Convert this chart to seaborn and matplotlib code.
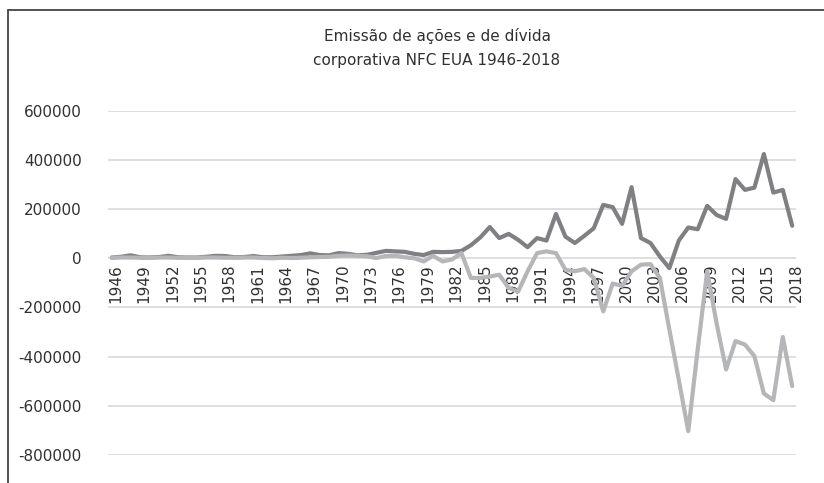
import numpy as np
import pandas as pd
import matplotlib
matplotlib.use("Agg")
import matplotlib.pyplot as plt
import matplotlib.transforms as mtransforms
from matplotlib.lines import Line2D
import seaborn as sns

# Data (US$ millions)
years = list(range(1946, 2019))

debt = [
    3000, 6000, 12000, 4000, 3000, 5000, 10000, 4000, 3000, 3000,
    6000, 10000, 9000, 4000, 5000, 9000, 4000, 4000, 7000, 10000,
    13000, 20000, 13000, 12000, 21000, 18000, 12000, 14000, 22000, 30000,
    28000, 26000, 18000, 13000, 26000, 25000, 26000, 30000, 53000, 85000,
    127000, 82000, 99000, 75000, 45000, 82000, 72000, 180000, 88000, 62000,
    91000, 122000, 217000, 208000, 140000, 289000, 82000, 62000, 7000, -40000,
    72000, 125000, 118000, 213000, 176000, 160000, 322000, 278000, 287000, 424000,
    267000, 278000, 132000,
]

equity = [
    2000, 3000, 3000, 2000, 2000, 3000, 3000, 2000, 3000, 2000,
    3000, 3000, 2000, 2000, 3000, 3000, 1000, 0, 2000, 1000,
    2000, 4000, 5000, 6000, 10000, 11000, 10000, 8000, 1000, 9000,
    10000, 4000, 0, -13000, 10000, -13000, -5000, 21000, -80000, -80000,
    -74000, -67000, -121000, -135000, -53000, 21000, 28000, 21000, -47000, -53000,
    -44000, -80000, -216000, -103000, -112000, -53000, -26000, -24000, -80000, -290000,
    -495000, -703000, -370000, -53000, -265000, -452000, -337000, -351000, -398000, -550000,
    -577000, -320000, -520000,
]

title_lines = ["Emissão de ações e de dívida", "corporativa NFC EUA 1946-2018"]
y_ticks = list(range(-800000, 600001, 200000))
x_ticks = list(range(1946, 2019, 3))

df = pd.DataFrame({"ano": years, "divida": debt, "acoes": equity})

sns.set_style("white")
plt.rcParams["font.family"] = ["DejaVu Sans"]

fig = plt.figure(figsize=(8.24, 4.83), dpi=100)
ax = fig.add_axes([108 / 824, 1 - 455 / 483, 688 / 824, (455 - 110.7) / 483])

sns.lineplot(data=df, x="ano", y="divida", ax=ax, color="#808084", linewidth=3.0,
             solid_capstyle="round", solid_joinstyle="round")
sns.lineplot(data=df, x="ano", y="acoes", ax=ax, color="#b5b6b9", linewidth=3.0,
             solid_capstyle="round", solid_joinstyle="round")

# x axis sits on the zero line (set before the labels: this resets ticks)
for side in ["top", "right", "left"]:
    ax.spines[side].set_visible(False)
ax.spines["bottom"].set_position(("data", 0))
ax.spines["bottom"].set_visible(False)

ax.set_xlim(1945.6, 2018.4)
ax.set_ylim(-800000, 600000)
ax.set_yticks(y_ticks)
ax.set_yticklabels([str(v) for v in y_ticks], fontsize=11, color="#303030")
ax.yaxis.grid(True, color="#d9d9d9", linewidth=1.2)
ax.set_axisbelow(True)

ax.set_xticks(x_ticks)
ax.set_xticklabels([str(y) for y in x_ticks], rotation=90, fontsize=11, color="#303030")
ax.tick_params(axis="x", length=0, pad=4)
ax.tick_params(axis="y", length=0, pad=19)
offset = mtransforms.ScaledTranslation(4 / 100, 0, fig.dpi_scale_trans)
for lbl in ax.get_xticklabels():
    lbl.set_transform(lbl.get_transform() + offset)
ax.set_xlabel("")
ax.set_ylabel("")

fig.text(437 / 824, 1 - 36 / 483, title_lines[0], ha="center", va="center",
         fontsize=11, color="#303030")
fig.text(437 / 824, 1 - 60 / 483, title_lines[1], ha="center", va="center",
         fontsize=11, color="#303030")

# Outer frame (left and top edges visible)
fx = 8 / 824
fy = 1 - 9.5 / 483
fig.add_artist(Line2D([fx, fx], [0, fy], transform=fig.transFigure, color="#444444", linewidth=1.3))
fig.add_artist(Line2D([fx, 1], [fy, fy], transform=fig.transFigure, color="#444444", linewidth=1.3))

fig.savefig("out.png", dpi=100)
